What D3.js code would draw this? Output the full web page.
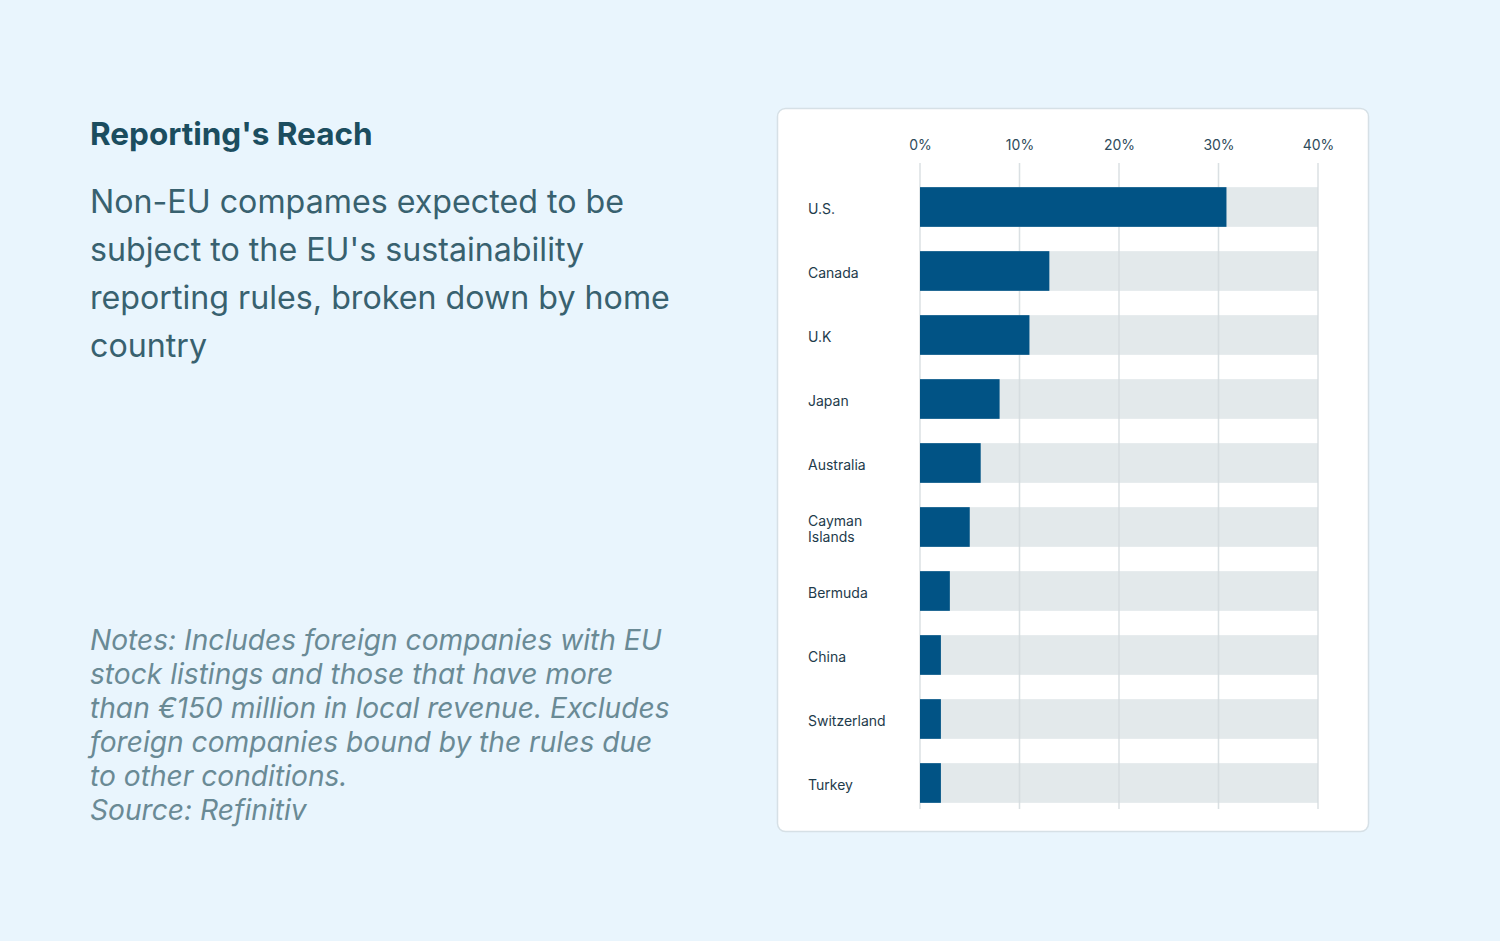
<!DOCTYPE html>
<html>
<head>
<meta charset="utf-8">
<script src="https://cdn.jsdelivr.net/npm/d3@7"></script>
<style>
  html, body { margin: 0; padding: 0; background: #e9f5fd; }
  svg { display: block; }
</style>
</head>
<body>
<svg id="chart" width="1500" height="941"></svg>
<script>
const categories = ["U.S.", "Canada", "U.K", "Japan", "Australia", "Cayman Islands", "Bermuda", "China", "Switzerland", "Turkey"];
const values = [30.8, 13, 11, 8, 6.1, 5, 3, 2.1, 2.1, 2.1];
const tickValues = [0, 10, 20, 30, 40];
const maxValue = 40;
const titleText = "Reporting's Reach";
const subtitleLines = ["Non-EU compames expected to be", "subject to the EU's sustainability", "reporting rules, broken down by home", "country"];
const noteLines = ["Notes: Includes foreign companies with EU", "stock listings and those that have more", "than €150 million in local revenue. Excludes", "foreign companies bound by the rules due", "to other conditions.", "Source: Refinitiv"];

const svg = d3.select("#chart");
const font = "Inter, 'Noto Sans', sans-serif";

svg.append("rect").attr("width", 1500).attr("height", 941).attr("fill", "#e9f5fd");

// Title
svg.append("text").attr("x", 90).attr("y", 145)
  .attr("font-family", font).attr("font-size", 31.5).attr("font-weight", 700)
  .attr("fill", "#1b4d5f").text(titleText);

// Subtitle
const sub = svg.append("text").attr("font-family", font).attr("font-size", 32.2).attr("fill", "#38616f");
subtitleLines.forEach((l, i) => sub.append("tspan").attr("x", 90).attr("y", 213 + i * 48).text(l));

// Notes
const notes = svg.append("text").attr("font-family", font).attr("font-size", 28.15)
  .attr("font-style", "italic").attr("fill", "#6a8a95");
noteLines.forEach((l, i) => notes.append("tspan").attr("x", 90).attr("y", 650 + i * 34).text(l));

// Card
svg.append("rect").attr("x", 777.5).attr("y", 108.5).attr("width", 591).attr("height", 723)
  .attr("rx", 8).attr("fill", "#ffffff").attr("stroke", "#d6e0e6").attr("stroke-width", 1.5);

const x = d3.scaleLinear().domain([0, maxValue]).range([920, 1318]);
const y = d3.scaleBand().domain(categories).range([175, 815]).paddingInner(0.38).paddingOuter(0.19);

// background bars
svg.append("g").selectAll("rect").data(categories).join("rect")
  .attr("x", x(0)).attr("y", d => y(d)).attr("width", x(maxValue) - x(0)).attr("height", y.bandwidth())
  .attr("fill", "#e3e9eb");

// grid lines
svg.append("g").selectAll("line").data(tickValues).join("line")
  .attr("x1", d => x(d)).attr("x2", d => x(d))
  .attr("y1", 163).attr("y2", 809)
  .attr("stroke", "#d3dade").attr("stroke-opacity", 0.85).attr("stroke-width", 1.5);

// axis top
const axis = d3.axisTop(x).tickValues(tickValues).tickFormat(d => d + "%").tickSize(0).tickPadding(0);
const axG = svg.append("g").attr("transform", "translate(0,150)").call(axis);
axG.select(".domain").remove();
axG.selectAll("text").attr("font-family", font).attr("font-size", 14).attr("fill", "#2f4b5b");

// value bars
svg.append("g").selectAll("rect").data(values).join("rect")
  .attr("x", x(0)).attr("y", (d, i) => y(categories[i])).attr("width", d => x(d) - x(0)).attr("height", y.bandwidth())
  .attr("fill", "#015385");

// category labels
const labG = svg.append("g").attr("font-family", font).attr("font-size", 14).attr("fill", "#1e3b4b");
categories.forEach(c => {
  const cy = y(c) + y.bandwidth() / 2;
  const words = c === "Cayman Islands" ? ["Cayman", "Islands"] : [c];
  const t = labG.append("text");
  words.forEach((w, i) => {
    t.append("tspan").attr("x", 808).attr("y", cy + 6.5 + (i - (words.length - 1) / 2) * 16).text(w);
  });
});
</script>
</body>
</html>
